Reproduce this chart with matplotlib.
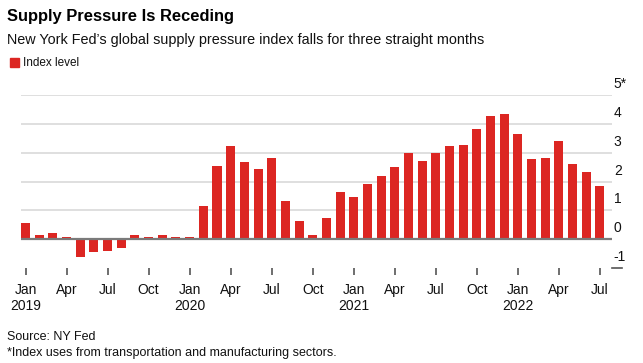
import matplotlib.pyplot as plt
import numpy as np
from matplotlib.patches import Rectangle
from matplotlib.transforms import blended_transform_factory, offset_copy

plt.rcParams["font.family"] = ["Liberation Sans", "DejaVu Sans"]

# monthly index, Jan 2019 .. Jul 2022
values_2019 = [0.56, 0.15, 0.22, 0.06, -0.63, -0.46, -0.42, -0.29, 0.15, 0.08, 0.15, 0.06]
values_2020 = [0.09, 1.14, 2.53, 3.22, 2.68, 2.44, 2.80, 1.34, 0.63, 0.16, 0.72, 1.64]
values_2021 = [1.45, 1.92, 2.20, 2.51, 2.98, 2.71, 2.98, 3.24, 3.28, 3.83, 4.26, 4.34]
values_2022 = [3.66, 2.78, 2.80, 3.41, 2.60, 2.32, 1.85]
years = ["2019", "2020", "2021", "2022"]
quarter_months = ["Jan", "Apr", "Jul", "Oct"]
y_ticks = [-1, 0, 1, 2, 3, 4, 5]
y_labels = ["-1", "0", "1", "2", "3", "4", "5*"]

values = values_2019 + values_2020 + values_2021 + values_2022
RED = "#dc2622"

W, H = 643, 363
fig = plt.figure(figsize=(W / 100, H / 100), dpi=100)
ax = fig.add_axes([21 / W, 1 - 268 / H, 591 / W, 173 / H])

x = np.arange(len(values))
ax.bar(x, values, width=0.66, color=RED, zorder=3)

ax.set_xlim(-0.33, len(values) - 1 + 0.88)
ax.set_ylim(-1, 5)
ax.set_yticks(y_ticks[1:])
ax.yaxis.grid(True, color="#dcdcdc", lw=1.3)
ax.tick_params(axis="y", left=False, labelleft=False)
ax.axhline(0, color="#7a7a7a", lw=1.6, zorder=4)
for s in ax.spines.values():
    s.set_visible(False)

# x ticks every quarter, year under Jan
tick_pos = x[::3]
tick_lbl = []
for i in tick_pos:
    m = quarter_months[(i % 12) // 3]
    if i % 12 == 0:
        m += "\n" + years[i // 12]
    tick_lbl.append(m)
ax.set_xticks(tick_pos)
ax.set_xticklabels(tick_lbl, fontsize=10, linespacing=1.2, va="top")
ax.tick_params(axis="x", length=5, width=1.2, color="#555555", pad=6, labelcolor="#111111")

# right-side value labels, sitting above their gridlines
trans = blended_transform_factory(ax.transAxes, ax.transData)
for v, lab in zip(y_ticks, y_labels):
    ax.text(1.003, v, lab, transform=offset_copy(trans, fig=fig, y=4, units="dots"),
            ha="left", va="bottom", fontsize=10, color="#111111")
ax.plot([1.0, 1.017], [-1, -1], transform=trans, color="#555555", lw=1.2, clip_on=False)

fig.text(7 / W, 1 - 16 / H, "Supply Pressure Is Receding", fontsize=11.9, fontweight="bold",
         va="center", ha="left", color="#000000")
fig.text(7 / W, 1 - 40 / H, "New York Fed’s global supply pressure index falls for three straight months",
         fontsize=10.4, va="center", ha="left", color="#111111")
fig.patches.append(Rectangle((10 / W, 1 - 67 / H), 9 / W, 9 / H, transform=fig.transFigure,
                             color=RED, figure=fig))
fig.text(23 / W, 1 - 63 / H, "Index level", fontsize=8.5, va="center", ha="left", color="#111111")

fig.text(7 / W, 1 - 337 / H, "Source: NY Fed", fontsize=9, va="center", ha="left", color="#111111")
fig.text(7 / W, 1 - 353 / H, "*Index uses from transportation and manufacturing sectors.",
         fontsize=9, va="center", ha="left", color="#111111")

fig.savefig("out.png", dpi=100)
